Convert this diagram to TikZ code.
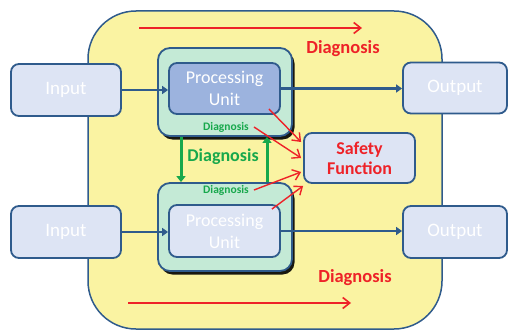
\documentclass[tikz,border=0pt]{standalone}
\usepackage{fontspec}
\setmainfont{Carlito}
\usetikzlibrary{arrows.meta,shadows}

\definecolor{edgeblue}{HTML}{2F5B8C}
\definecolor{padyellow}{HTML}{FAF3A2}
\definecolor{mint}{HTML}{C4EAD6}
\definecolor{unitblue}{HTML}{9CB3DE}
\definecolor{paleblue}{HTML}{DDE4F4}
\definecolor{diagred}{HTML}{EE2228}
\definecolor{diaggreen}{HTML}{17A84C}

\begin{document}
\begin{tikzpicture}[x=1pt,y=-1pt,
  box/.style={draw=edgeblue,line width=1.8pt,rounded corners=8pt,inner sep=0pt,
    fill=paleblue,text=white,align=center,font=\fontsize{18}{22}\selectfont},
  shell/.style={draw=edgeblue,line width=1.8pt,rounded corners=12pt,fill=mint,
    minimum width=134pt,minimum height=88pt,
    drop shadow={shadow xshift=2.5pt,shadow yshift=-3.5pt,opacity=0.9,fill=black}},
  flow/.style={draw=edgeblue,line width=2.6pt,-{Triangle[length=6pt,width=8pt]}},
  check/.style={draw=diaggreen,line width=3pt,-{Triangle[length=6pt,width=9pt]}},
  alarm/.style={draw=diagred,line width=1.4pt,-{Straight Barb[length=7pt,width=11pt]}},
  redtext/.style={text=diagred,font=\bfseries\fontsize{18.5}{22}\selectfont},
  smalltext/.style={text=diaggreen,font=\bfseries\fontsize{11.5}{13}\selectfont,inner sep=2pt}]
\useasboundingbox (0,0) rectangle (508,329);

% housing
\node (frame) [draw=edgeblue,line width=1.5pt,fill=padyellow,rounded corners=48pt,
  minimum width=354pt,minimum height=318pt] at (265,170) {};

% inputs and outputs
\node (inTop) [box,minimum width=110pt,minimum height=52pt,font=\fontsize{19}{22}\selectfont] at (66,90) {Input};
\node (inBot) [box,minimum width=110pt,minimum height=52pt,font=\fontsize{19}{22}\selectfont] at (66,232) {Input};
\node (outTop) [box,minimum width=104pt,minimum height=51pt,font=\fontsize{19}{22}\selectfont] at (455,88) {Output};
\node (outBot) [box,minimum width=104pt,minimum height=52pt,font=\fontsize{19}{22}\selectfont] at (455,232) {Output};

% the two channels
\node (shellTop) [shell] at (225,92) {};
\node (shellBot) [shell] at (225,227) {};
\node (puTop) [box,fill=unitblue,minimum width=111pt,minimum height=51pt] at (224.5,88.5) {Processing\\Unit};
\node (puBot) [box,minimum width=111pt,minimum height=52pt] at (224.5,231) {Processing\\Unit};
\node (diagTop) [smalltext] at (226,127) {Diagnosis};
\node (diagBot) [smalltext] at (226,190) {Diagnosis};

\node (safety) [box,minimum width=111pt,minimum height=50pt,text=diagred,
  font=\bfseries\fontsize{18}{20}\selectfont] at (359.5,158) {Safety\\Function};

% labels
\node (diagMid) [text=diaggreen,font=\bfseries\fontsize{18}{20}\selectfont] at (223,157) {Diagnosis};
\node (diagUp) [redtext] at (343,49) {Diagnosis};
\node (diagDown) [redtext] at (355,278) {Diagnosis};

\coordinate (upL) at (139,28);
\coordinate (upR) at (362,28);
\coordinate (downL) at (128,303);
\coordinate (downR) at (351,303);

% signal flow
\draw[flow] (inTop.east) -- (inTop.east -| puTop.west);
\draw[flow] (puTop.east) -- (puTop.east -| outTop.west);
\draw[flow] (inBot.east) -- (inBot.east -| puBot.west);
\draw[flow] (puBot.east) -- (puBot.east -| outBot.west);

% cross checks
\draw[check] ([xshift=-44pt]shellTop.south) -- ([xshift=-44pt]shellBot.north);
\draw[check] ([xshift=42pt]shellBot.north) -- ([xshift=42pt]shellTop.south);

\draw[alarm] ([xshift=-12pt,yshift=6pt]puTop.south east) -- ([xshift=-2pt,yshift=16pt]safety.west);
\draw[alarm] ([xshift=3pt]diagTop.east) -- ([xshift=-2pt]safety.west);
\draw[alarm] ([xshift=3pt]diagBot.east) -- ([xshift=-2pt,yshift=-14pt]safety.west);
\draw[alarm] ([xshift=-9pt,yshift=-5pt]puBot.north east) -- ([yshift=-2pt]safety.south west);

\draw[alarm,line width=1.6pt] (upL) -- (upR);
\draw[alarm,line width=1.6pt] (downL) -- (downR);
\end{tikzpicture}
\end{document}
